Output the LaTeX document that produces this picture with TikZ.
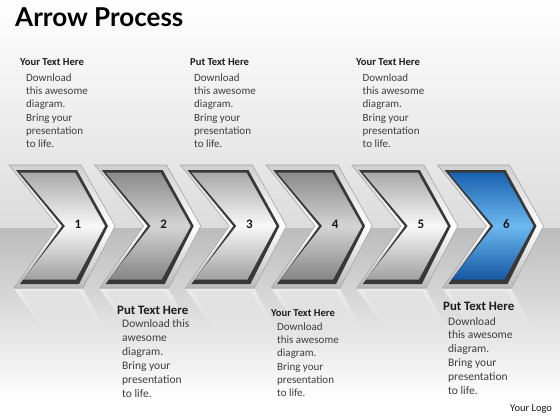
\documentclass[tikz,border=0pt]{standalone}
\usepackage{fontspec}
\setmainfont{Carlito}
\newfontfamily\titlefont{Lato}
\usetikzlibrary{fadings}
\definecolor{bgtop}{HTML}{DCDCDC}
\definecolor{bgbot}{HTML}{BCBCBC}
\definecolor{frTop}{HTML}{CFCFCF}
\definecolor{frBot}{HTML}{BABABA}
\definecolor{frLine}{HTML}{A6A6A6}
\definecolor{bord}{HTML}{383838}
\definecolor{lTop}{HTML}{A8A8A8}
\definecolor{lMid}{HTML}{F8F8F8}
\definecolor{lBot}{HTML}{A0A0A0}
\definecolor{dTop}{HTML}{8A8A8A}
\definecolor{dMid}{HTML}{D4D4D4}
\definecolor{dBot}{HTML}{858585}
\definecolor{bTop}{HTML}{1A62B0}
\definecolor{bMid}{HTML}{6CB8F0}
\definecolor{bBot}{HTML}{1558A3}
\definecolor{headcol}{HTML}{1C1C1C}
\definecolor{bodycol}{HTML}{3E3E3E}
\newcommand\mylines[3]{\fontsize{#1}{#2}\selectfont\begin{tabular}[t]{@{}l@{}}#3\end{tabular}}
\tikzfading[name=fadedown, top color=transparent!45, bottom color=transparent!100]
\begin{document}
\begin{tikzpicture}[x=1pt,y=-1pt,
  chevlight/.style={top color=lTop, bottom color=lBot, middle color=lMid},
  chevdark/.style={top color=dTop, bottom color=dBot, middle color=dMid},
  chevblue/.style={top color=bTop, bottom color=bBot, middle color=bMid},
  frame/.style={top color=frTop, bottom color=frBot, middle color=white, draw=frLine, line width=0.6pt},
  numlbl/.style={font=\bfseries\fontsize{13}{15}\selectfont, text=black!90, inner sep=0pt},
  head/.style={anchor=base west, inner sep=0pt, text=headcol, font=\bfseries\fontsize{10.6}{12}\selectfont},
  bighead/.style={anchor=base west, inner sep=0pt, text=headcol, font=\bfseries\fontsize{12.8}{14}\selectfont},
  body/.style={anchor=base west, inner sep=0pt, text=bodycol}]
\useasboundingbox (0,0) rectangle (560,420);
% background
\shade[top color=white, bottom color=bgtop] (0,0) rectangle (560,228);
\shade[top color=bgbot, bottom color=white] (0,228) rectangle (560,400);
\fill[white] (0,400) rectangle (560,420);
% chevrons
\foreach \i/\sty in {1/chevlight,2/chevdark,3/chevlight,4/chevdark,5/chevlight,6/chevblue}{
  \pgfmathsetmacro\xo{9+85.7*(\i-1)}
  \begin{scope}[xshift=\xo pt]
    % reflection
    \fill[white, path fading=fadedown] (5,289) -- (74,289) -- (96,330) -- (35,330) -- cycle;
    \fill[black, opacity=0.06, path fading=fadedown] (12,291) -- (70,291) -- (88,322) -- (30,322) -- cycle;
    % frame
    \shade[frame] (0,165) -- (72,165) -- (106,226) -- (74,288) -- (5,288) -- (49,226) -- cycle;
    % dark border
    \fill[bord] (7,170) -- (68,170) -- (99,226) -- (70,284) -- (11,284) -- (53,226) -- cycle;
    % inner fill
    \shade[\sty] (11,172.5) -- (66,172.5) -- (96,226) -- (67,279.5) -- (14,279.5) -- (56,226) -- cycle;
    \node[numlbl] (n\i) at (69,224.5) {\i};
  \end{scope}
}
% title
\node[anchor=base west, inner sep=0pt, font=\titlefont\bfseries\fontsize{26}{30}\selectfont] (title) at (15,27) {Arrow Process};
% top texts
\node[head] (h1) at (20,66) {Your Text Here};
\node[body] (b1) at (26,81.5) {\mylines{11}{13.2}{Download\\this awesome\\diagram.\\Bring your\\presentation\\to life.}};
\node[head] (h2) at (190,66) {Put Text Here};
\node[body] (b2) at (194,81.5) {\mylines{11}{13.2}{Download\\this awesome\\diagram.\\Bring your\\presentation\\to life.}};
\node[head] (h3) at (356,66) {Your Text Here};
\node[body] (b3) at (362.5,81.5) {\mylines{11}{13.2}{Download\\this awesome\\diagram.\\Bring your\\presentation\\to life.}};
% bottom texts
\node[bighead] (h4) at (117,314) {Put Text Here};
\node[body] (b4) at (122,327.7) {\mylines{11.5}{14}{Download this\\awesome\\diagram.\\Bring your\\presentation\\to life.}};
\node[head] (h5) at (271,316) {Your Text Here};
\node[body] (b5) at (277,330.7) {\mylines{11}{13.1}{Download\\this awesome\\diagram.\\Bring your\\presentation\\to life.}};
\node[bighead] (h6) at (443,310.7) {Put Text Here};
\node[body] (b6) at (448,325) {\mylines{11.5}{13.9}{Download\\this awesome\\diagram.\\Bring your\\presentation\\to life.}};
% logo
\node[anchor=base west, inner sep=0pt, text=headcol, font=\fontsize{10.5}{12}\selectfont] (logo) at (510,411.5) {Your Logo};
\end{tikzpicture}
\end{document}
